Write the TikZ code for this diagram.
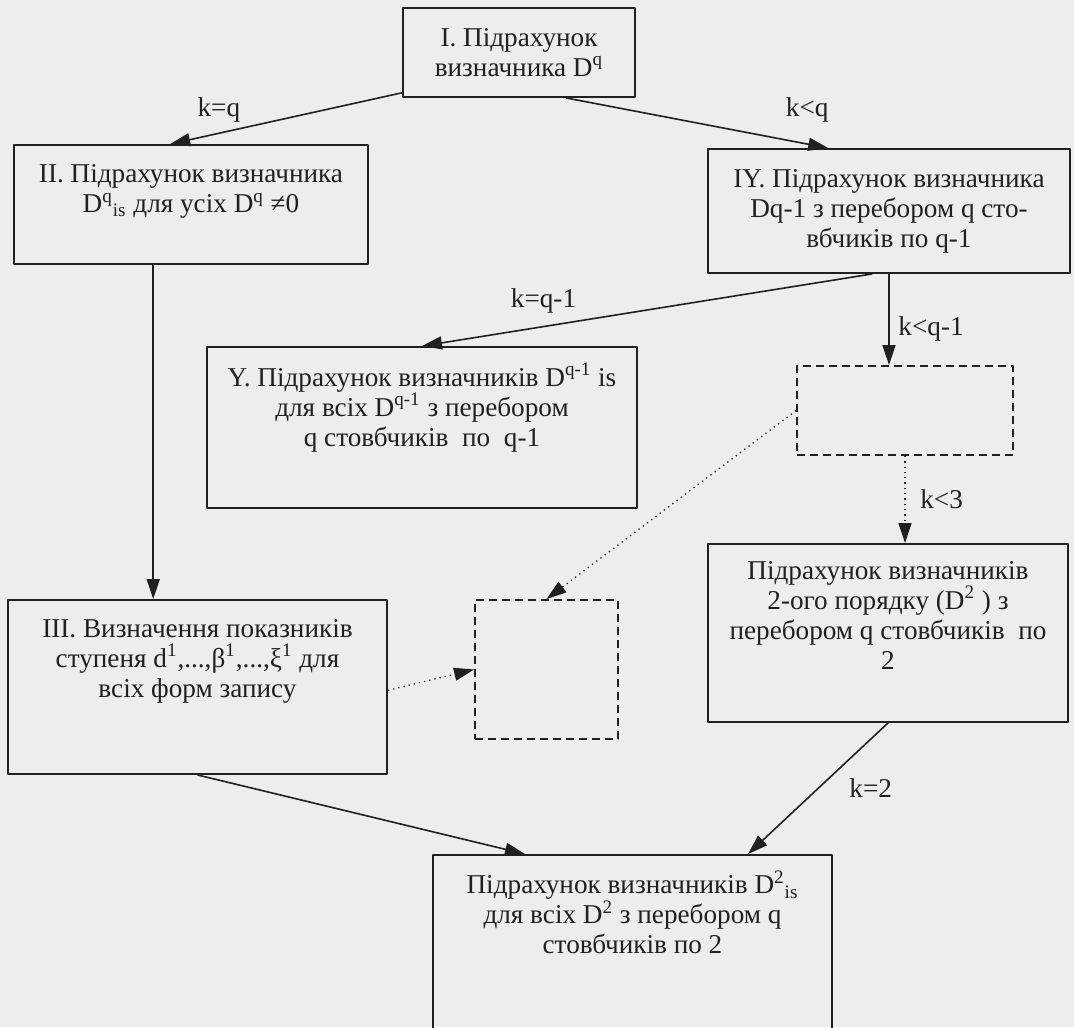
\documentclass[tikz,border=0pt]{standalone}
\usepackage{fontspec}
\setmainfont{Liberation Serif}
\usetikzlibrary{arrows.meta}
\definecolor{paper}{RGB}{237,237,237}
\definecolor{ink}{RGB}{32,32,32}
% strut that pushes the lines of a box upwards
\newcommand{\lowgap}[1]{\rule[-#1]{0pt}{#1}}

\begin{document}
\begin{tikzpicture}[x=0.5pt, y=-0.5pt, >={Triangle[length=10pt,width=6.5pt]},
                    line join=round,
                    every node/.style={font=\fontsize{13.6}{15}\selectfont, text=ink},
                    box/.style={draw=ink, line width=0.95pt, align=center, inner sep=2pt},
                    dashbox/.style={draw=ink, line width=0.95pt, dash pattern=on 4pt off 2.5pt},
                    arr/.style={->, draw=ink, line width=0.8pt},
                    dotarr/.style={->, draw=ink, line width=0.65pt, dotted}]

  %--- papel ---
  \useasboundingbox (0,0) rectangle (1074,1027);
  \clip (0,0) rectangle (1074,1027);
  \fill[paper] (0,0) rectangle (1074,1027);

  %--- bloques ---
  \node[box, minimum width=116pt, minimum height=44.5pt] (boxI) at (519,52.5)
      {I. Підрахунок\\визначника D\textsuperscript{q}};
  \node[box, minimum width=177pt, minimum height=59.5pt] (boxII) at (191,204.5)
      {II. Підрахунок визначника\\D\textsuperscript{q}\textsubscript{is} для усіх D\textsuperscript{q} ≠0\lowgap{16pt}};
  \node[box, minimum width=181pt, minimum height=62pt] (boxIY) at (889,211)
      {IY. Підрахунок визначника\\Dq-1 з перебором q сто-\\вбчиків по q-1};
  \node[box, minimum width=215pt, minimum height=80.5pt] (boxY) at (422,427.5)
      {Y. Підрахунок визначників D\textsuperscript{q-1} is\\для всіх D\textsuperscript{q-1} з перебором\\q стовбчиків~ по~ q-1\lowgap{22.6pt}};
  \node[dashbox, minimum width=108pt, minimum height=44.5pt] (dashA) at (905,410.5) {};
  \node[box, minimum width=180pt, minimum height=89pt] (boxVI) at (888,633)
      {Підрахунок визначників\\2-ого порядку (D\textsuperscript{2} ) з\\перебором q стовбчиків~ по\\2\lowgap{17.6pt}};
  \node[box, minimum width=189.5pt, minimum height=87pt] (boxIII) at (197.5,687)
      {III. Визначення показників\\ступеня d\textsuperscript{1},...,β\textsuperscript{1},...,ξ\textsuperscript{1} для\\всіх форм запису\lowgap{28.6pt}};
  \node[dashbox, minimum width=71.5pt, minimum height=69.5pt] (dashB) at (546.5,669.5) {};
  \node[box, minimum width=199.5pt, minimum height=95pt] (boxbot) at (632.5,950)
      {Підрахунок визначників D\textsuperscript{2}\textsubscript{is}\\для всіх D\textsuperscript{2} з перебором q\\стовбчиків по 2\lowgap{37.6pt}};

  %--- transiciones ---
  \draw[arr] (boxI.199) -- (boxII.109)
      node[pos=0.79, above=2pt] {k=q};
  \draw[arr] (boxI.-44) -- (boxIY.134)
      node[pos=0.92, above=7pt] {k<q};
  \draw[arr] (boxII.238) -- (boxII.238 |- boxIII.north);
  \draw[arr] (boxIY.255) -- (boxY.north)
      node[pos=0.73, above=3pt] {k=q-1};
  \draw[arr] (boxIY.south) -- (boxIY.south |- dashA.north)
      node[pos=0.6, right=1pt] {k<q-1};
  \draw[dotarr] (dashA.south) -- (dashA.south |- boxVI.north)
      node[midway, right=4pt] {k<3};
  \draw[dotarr] (dashA.west) -- (dashB.north);
  \draw[dotarr] (boxIII.-1) -- (dashB.west);

  %--- hacia el bloque final ---
  \draw[arr] (boxIII.south) -- ([xshift=-53.75pt]boxbot.north);
  \draw[arr] (boxVI.south) -- ([xshift=57.75pt]boxbot.north)
      node[pos=0.5, right=12pt] {k=2};

\end{tikzpicture}
\end{document}
